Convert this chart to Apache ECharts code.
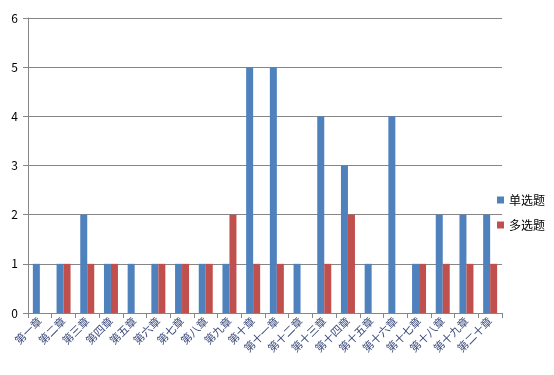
<!DOCTYPE html>
<html><head><meta charset="utf-8">
<script src="https://cdn.jsdelivr.net/npm/echarts@6/dist/echarts.min.js"></script>
<style>html,body{margin:0;padding:0;background:#fff}#c{width:554px;height:375px}</style>
</head><body><div id="c"></div>
<script>
const categories = ['第一章','第二章','第三章','第四章','第五章','第六章','第七章','第八章','第九章','第十章','第十一章','第十二章','第十三章','第十四章','第十五章','第十六章','第十七章','第十八章','第十九章','第二十章'];
const singleChoice = [1,1,2,1,1,1,1,1,1,5,5,1,4,3,1,4,1,2,2,2];
const multiChoice = [0,1,1,1,0,1,1,1,2,1,1,0,1,2,0,0,1,1,1,1];
const seriesNames = ['单选题','多选题'];
const chart = echarts.init(document.getElementById('c'));
const font = '"Noto Sans CJK SC", "DejaVu Sans", sans-serif';
chart.setOption({
  animation: false,
  grid: {left: 28, right: 52, top: 18, bottom: 62, containLabel: false},
  legend: {
    orient: 'vertical', left: 492, top: 189, itemGap: 13,
    itemWidth: 7, itemHeight: 7, icon: 'rect',
    textStyle: {fontSize: 12, color: '#000', fontFamily: font},
    data: seriesNames
  },
  xAxis: {
    type: 'category', data: categories,
    axisLine: {lineStyle: {color: '#868686'}},
    axisTick: {show: true, length: 5, lineStyle: {color: '#868686'}},
    axisLabel: {rotate: 45, interval: 0, fontSize: 11, color: '#3a4a7a', fontFamily: font, margin: 6}
  },
  yAxis: {
    type: 'value', min: 0, max: 6, interval: 1,
    axisLine: {show: true, lineStyle: {color: '#868686'}},
    axisTick: {show: true, length: 5, inside: false, lineStyle: {color: '#868686'}},
    splitLine: {lineStyle: {color: '#868686'}},
    axisLabel: {fontSize: 12, color: '#000', fontFamily: font, margin: 10}
  },
  series: [
    {name: seriesNames[0], type: 'bar', data: singleChoice, barWidth: 7, barGap: '0%', itemStyle: {color: '#4F81BD'}},
    {name: seriesNames[1], type: 'bar', data: multiChoice, barWidth: 7, barGap: '0%', itemStyle: {color: '#C0504D'}}
  ]
});
</script></body></html>
